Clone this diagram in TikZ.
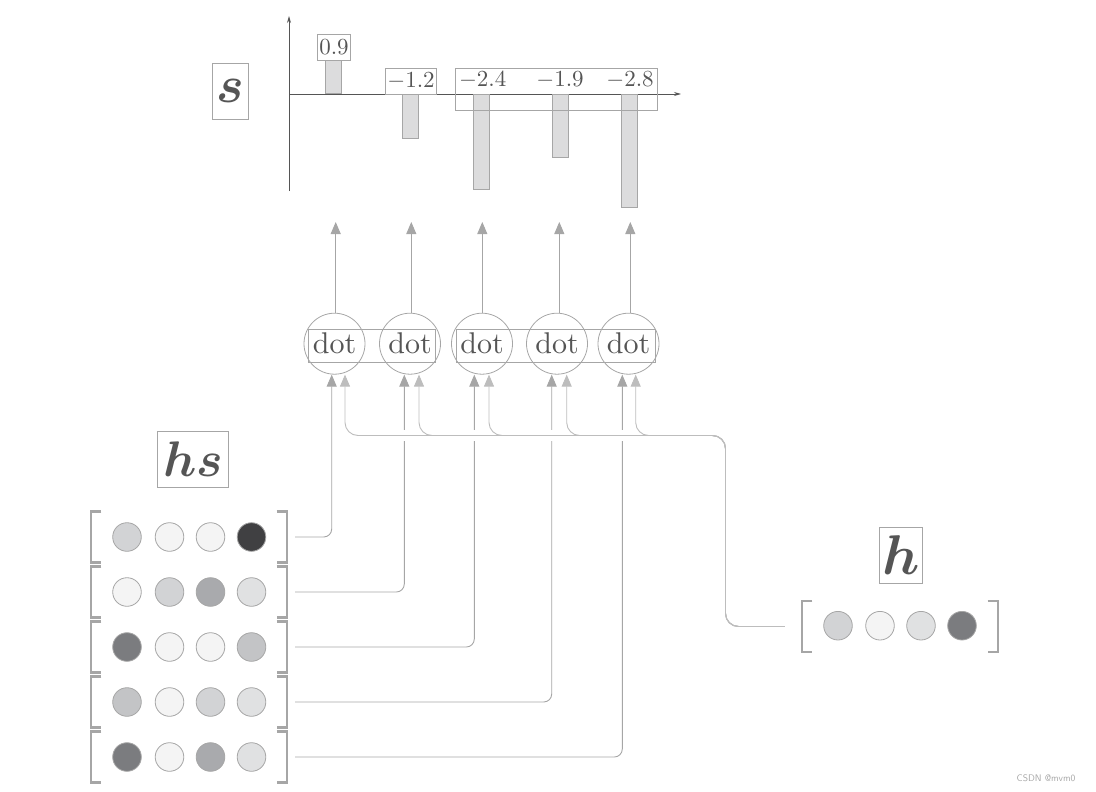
\documentclass[tikz,border=0pt]{standalone}
\usepackage{bm}
\usepackage{graphicx}
\usetikzlibrary{arrows.meta,calc}
\definecolor{ln}{HTML}{A6A6A6}
\definecolor{hln}{HTML}{BDBDBD}
\definecolor{txt}{HTML}{555555}
\definecolor{barfill}{HTML}{DCDCDD}
\definecolor{cA}{HTML}{F4F4F4}
\definecolor{cB}{HTML}{E0E1E2}
\definecolor{cC}{HTML}{D2D3D5}
\definecolor{cD}{HTML}{C3C4C6}
\definecolor{cE}{HTML}{A9AAAD}
\definecolor{cF}{HTML}{7B7C7F}
\definecolor{cG}{HTML}{404042}
\newcommand{\nm}[1]{\scalebox{2.3}{$#1$}}
\newcommand{\dottxt}{\scalebox{3}{\fontsize{10}{12}\selectfont dot}}
\begin{document}
\begin{tikzpicture}[x=1pt,y=-1pt,
  vc/.style={circle,draw=ln,line width=0.8pt,minimum size=28.6pt,inner sep=0pt},
  dotc/.style={circle,draw=ln,line width=0.8pt,minimum size=61pt,inner sep=0pt,
    text=txt},
  rowvec/.style={minimum width=196pt,minimum height=51pt,inner sep=0pt},
  brk/.style={draw=ln,line width=2.5pt},
  lbl/.style={draw=ln,line width=0.8pt,minimum height=56pt,inner sep=0pt,text=txt},
  num/.style={draw=ln,line width=0.8pt,inner xsep=2pt,inner ysep=1pt,minimum height=26pt,
    text=txt},
  numt/.style={text=txt,inner sep=1pt},
  bar/.style={draw=ln,fill=barfill,line width=0.8pt,minimum width=16pt,inner sep=0pt},
  tip/.style={-{Triangle[length=12pt,width=10pt]}},
  conn/.style={draw=ln,line width=0.9pt,rounded corners=8pt,tip,color=ln},
  hconn/.style={draw=hln,line width=0.9pt,rounded corners=13pt,tip,color=hln},
  upc/.style={draw=ln,line width=0.9pt,tip,color=ln},
  boxr/.style={draw=ln,line width=0.8pt}
]
\useasboundingbox (0,0) rectangle (1096,792);

% ---------- bar chart ----------
\draw[txt,line width=0.8pt,-{Stealth[length=7pt,width=4pt]}] (289,191) -- (289,16);
\draw[txt,line width=0.8pt,-{Stealth[length=7pt,width=4pt]}] (289,94) -- (681,94);

\node[bar,minimum height=33pt,anchor=south] (b1) at (333.3,94) {};
\node[bar,minimum height=44pt,anchor=north] (b2) at (410.8,94) {};
\node[bar,minimum height=95pt,anchor=north] (b3) at (481.8,94) {};
\node[bar,minimum height=63pt,anchor=north] (b4) at (560,94) {};
\node[bar,minimum height=113pt,anchor=north] (b5) at (629.3,94) {};

\node[num] (n1) at (334,47.5) {\nm{0.9}};
\node[num] (n2) at (411,81.2) {\nm{-1.2}};
\draw[boxr] (455.5,68.3) rectangle (657.3,110);
\node[numt] (n3) at (482.7,80.5) {\nm{-2.4}};
\node[numt] (n4) at (560,80.5) {\nm{-1.9}};
\node[numt] (n5) at (630,80.5) {\nm{-2.8}};

\node[lbl,minimum width=36pt] (s) at (230.5,91.3) {\scalebox{5.2}{$\bm{s}$}};

% ---------- dot circles ----------
\node[dotc] (d1) at (334.5,343.7) {\dottxt};
\node[dotc] (d2) at (410,343.7) {\dottxt};
\node[dotc] (d3) at (482,343.7) {\dottxt};
\node[dotc] (d4) at (557,343.7) {\dottxt};
\node[dotc] (d5) at (628.5,343.7) {\dottxt};
\draw[boxr] (308.3,329.3) rectangle (435.7,362.3);
\draw[boxr] (456,329.3) rectangle (655.7,362.3);

\coordinate (t1) at (335.7,222);
\coordinate (t2) at (411.3,222);
\coordinate (t3) at (482.3,222);
\coordinate (t4) at (559.3,222);
\coordinate (t5) at (630.3,222);
\draw[upc] (d1.north -| t1) -- (t1);
\draw[upc] (d2.north -| t2) -- (t2);
\draw[upc] (d3.north -| t3) -- (t3);
\draw[upc] (d4.north -| t4) -- (t4);
\draw[upc] (d5.north -| t5) -- (t5);

% ---------- hs matrix ----------
\node[lbl,minimum width=71pt] (hs) at (193,459.5) {\scalebox{5}{$\bm{hs}$}};

\foreach \i/\y/\ca/\cb/\cc/\cd in {1/537/cC/cA/cA/cG, 2/592/cA/cC/cE/cB, 3/647/cF/cA/cA/cD,
    4/702/cD/cA/cC/cB, 5/757/cF/cA/cE/cB}{
  \node[rowvec] (r\i) at (189,\y) {};
  \draw[brk] ([xshift=10.5pt]r\i.north west) -- (r\i.north west) -- (r\i.south west) -- ([xshift=10.5pt]r\i.south west);
  \draw[brk] ([xshift=-10.5pt]r\i.north east) -- (r\i.north east) -- (r\i.south east) -- ([xshift=-10.5pt]r\i.south east);
  \node[vc,fill=\ca] (r\i c1) at (127,\y) {};
  \node[vc,fill=\cb] (r\i c2) at (169.5,\y) {};
  \node[vc,fill=\cc] (r\i c3) at (210.5,\y) {};
  \node[vc,fill=\cd] (r\i c4) at (251.5,\y) {};
  \coordinate (o\i) at ([xshift=8pt]r\i.east);
}

% ---------- h vector ----------
\node[lbl,minimum width=43pt] (h) at (901,555.3) {\scalebox{5.6}{$\bm{h}$}};
\node[rowvec] (hv) at (900,626.5) {};
\draw[brk] ([xshift=10.5pt]hv.north west) -- (hv.north west) -- (hv.south west) -- ([xshift=10.5pt]hv.south west);
\draw[brk] ([xshift=-10.5pt]hv.north east) -- (hv.north east) -- (hv.south east) -- ([xshift=-10.5pt]hv.south east);
\node[vc,fill=cC] (h1) at (838,625.7) {};
\node[vc,fill=cA] (h2) at (880,625.7) {};
\node[vc,fill=cB] (h3) at (921,625.7) {};
\node[vc,fill=cF] (h4) at (962,625.7) {};
\coordinate (ho) at ([xshift=-17pt]hv.west);
\coordinate (bus) at (725.5,435.5);

% ---------- connectors from hs ----------
\draw[conn] (o1) -| ([xshift=-2.8pt]d1.south);
\draw[conn] (o2) -| ([xshift=-5.7pt]d2.south);
\draw[conn] (o3) -| ([xshift=-7.7pt]d3.south);
\draw[conn] (o4) -| ([xshift=-5.3pt]d4.south);
\draw[conn] (o5) -| ([xshift=-6.2pt]d5.south);

% gap where the h bus crosses
\draw[white,line width=11pt] (352,435.5) -- (718,435.5);

% ---------- connectors from h ----------
\draw[hconn] (ho) -| (bus) -| ([xshift=10.5pt]d1.south);
\draw[hconn] (ho) -| (bus) -| ([xshift=9pt]d2.south);
\draw[hconn] (ho) -| (bus) -| ([xshift=7pt]d3.south);
\draw[hconn] (ho) -| (bus) -| ([xshift=9.7pt]d4.south);
\draw[hconn] (ho) -| (bus) -| ([xshift=7.2pt]d5.south);

\node[text=gray!70,font=\sffamily\fontsize{9.5}{11}\selectfont] (wm) at (1046,778) {CSDN @mvm0};
\end{tikzpicture}
\end{document}
